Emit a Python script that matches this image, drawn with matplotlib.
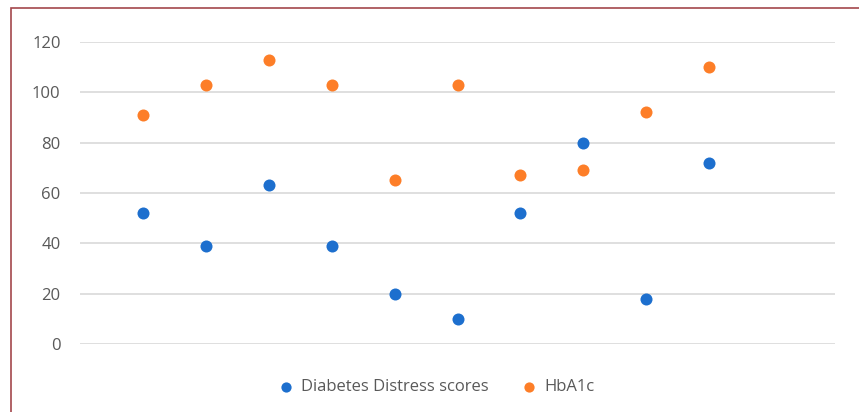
import matplotlib
matplotlib.use("Agg")
import matplotlib.pyplot as plt
from matplotlib.patches import Rectangle

x_idx = [1, 2, 3, 4, 5, 6, 7, 8, 9, 10]
distress = [52, 39, 63, 39, 20, 10, 52, 80, 18, 72]
hba1c = [91, 103, 113, 103, 65, 103, 67, 69, 92, 110]
y_ticks = [0, 20, 40, 60, 80, 100, 120]
series_names = ["Diabetes Distress scores", "HbA1c"]

plt.rcParams['font.family'] = ['Open Sans', 'DejaVu Sans']

fig = plt.figure(figsize=(8.59, 4.12), dpi=100)
fig.patch.set_facecolor('white')
ax = fig.add_axes([80/859, 1-344/412, (835-80)/859, (344-42)/412])

ax.scatter(x_idx, distress, s=75, color='#1d6fce', label=series_names[0], zorder=3, linewidths=0)
ax.scatter(x_idx, hba1c, s=75, color='#fd7e28', label=series_names[1], zorder=3, linewidths=0)

ax.set_xlim(0, 12)
ax.set_ylim(0, 120)
ax.set_yticks(y_ticks)
ax.set_xticks([])
ax.grid(axis='y', color='#d9d9d9', lw=1.2)
ax.set_axisbelow(True)
for s in ax.spines.values():
    s.set_visible(False)
ax.tick_params(axis='y', length=0, pad=14, labelsize=12, labelcolor='#595959')

leg = fig.legend(loc='center', bbox_to_anchor=(432/859, 1-387/412), ncol=2, frameon=False,
                 fontsize=12, handletextpad=-0.1, columnspacing=1.4, markerscale=0.85)
for t in leg.get_texts():
    t.set_color('#595959')

fig.patches.append(Rectangle((11/859, -0.1), 1.2, 1-8/412+0.1, transform=fig.transFigure,
                             fill=False, edgecolor='#a3474b', lw=1.2))

fig.savefig('out.png', dpi=100)
